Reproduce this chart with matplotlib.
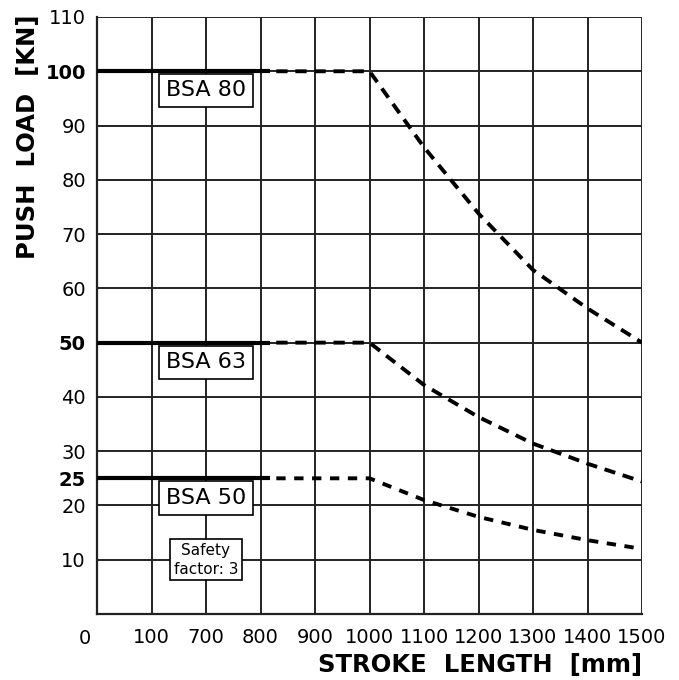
import matplotlib
matplotlib.use("Agg")
import matplotlib.pyplot as plt
import numpy as np

# ---- data ----
x_tick_labels = ["0", "100", "700", "800", "900", "1000", "1100", "1200", "1300", "1400", "1500"]
y_ticks = [10, 20, 25, 30, 40, 50, 60, 70, 80, 90, 100, 110]
y_bold = [25, 50, 100]

stroke_curve = [1000, 1100, 1200, 1300, 1400, 1500]
bsa80 = [100, 86.0, 73.8, 63.4, 56.3, 50.0]
bsa63 = [50, 42.2, 36.3, 31.4, 27.7, 24.4]
bsa50 = [25, 21.0, 17.9, 15.5, 13.6, 12.0]
series_names = ["BSA 80", "BSA 63", "BSA 50"]
series_vals = [bsa80, bsa63, bsa50]
label_y = [96.5, 46.4, 21.4]

def pos(mm):
    # axis position: 1000 mm at grid index 5, 100 mm per grid cell
    return 5 + (np.asarray(mm, dtype=float) - 1000) / 100.0

fig = plt.figure(figsize=(6.79, 6.80), dpi=100)
ax = fig.add_axes([97/679, 1-614/680, 545/679, 597/680])
ax.set_xlim(0, 10)
ax.set_ylim(0, 110)

# grid
gc = "#222222"
for xv in range(0, 11):
    ax.axvline(xv, color=gc, lw=1.4, zorder=1)
for yv in range(10, 111, 10):
    ax.axhline(yv, color=gc, lw=1.4, zorder=1)
for s in ["left", "bottom"]:
    ax.spines[s].set_linewidth(1.6)
    ax.spines[s].set_color(gc)
for s in ["top", "right"]:
    ax.spines[s].set_visible(False)

solid_end = 3.17
for name, vals, ly, dash in zip(series_names, series_vals, label_y,
                                [(2.9, 2.0), (2.9, 2.0), (2.4, 2.2)]):
    flat = vals[0]
    ax.plot([0, solid_end], [flat, flat], color="black", lw=3.0,
            solid_capstyle="butt", zorder=3)
    xs = np.concatenate([[solid_end + 0.12], pos(stroke_curve)])
    ys = np.concatenate([[flat], vals])
    ax.plot(xs, ys, color="black", lw=2.8, dashes=dash,
            dash_capstyle="butt", zorder=3)
    ax.text(2, ly, name, ha="center", va="center", fontsize=16,
            zorder=4,
            bbox=dict(boxstyle="square,pad=0.3", fc="white", ec="black", lw=1.2))

ax.text(2, 10, "Safety\nfactor: 3", ha="center", va="center", fontsize=11,
        linespacing=1.3, zorder=4,
        bbox=dict(boxstyle="square,pad=0.25", fc="white", ec="black", lw=1.2))

# ticks
ax.tick_params(length=0)
ax.set_xticks(range(1, 11))
ax.set_xticklabels(x_tick_labels[1:], fontsize=14)
ax.text(-0.22, -2.7, x_tick_labels[0], ha="center", va="top", fontsize=14,
        transform=ax.transData)
ax.set_yticks(y_ticks)
ylabels = ax.set_yticklabels([str(v) for v in y_ticks], fontsize=14)
for t, v in zip(ylabels, y_ticks):
    if v in y_bold:
        t.set_fontweight("bold")
ax.tick_params(axis="x", pad=10)
ax.tick_params(axis="y", pad=8)

fig.text(28/679, 1-137/680, "PUSH  LOAD  [KN]", rotation=90, ha="center",
         va="center", fontsize=17.5, fontweight="bold")
fig.text(642/679, 1-665/680, "STROKE  LENGTH  [mm]", ha="right", va="center",
         fontsize=17.5, fontweight="bold")

fig.savefig("out.png", dpi=100)
